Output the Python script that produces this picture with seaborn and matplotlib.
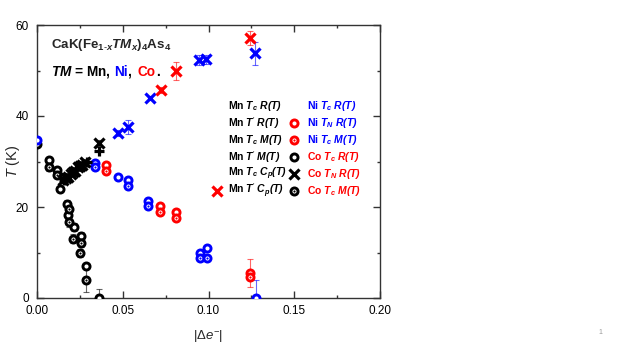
import numpy as np
import pandas as pd
import matplotlib
matplotlib.use("Agg")
import matplotlib.pyplot as plt
import matplotlib.transforms as mtransforms
import seaborn as sns

# ---------------- data ----------------
ni_tc_r_x = [0.0, 0.034, 0.047, 0.053, 0.065, 0.095, 0.099, 0.1277]
ni_tc_r_y = [34.7, 29.7, 26.6, 26.0, 21.3, 10.0, 11.0, 0.0]
ni_tc_m_x = [0.034, 0.053, 0.065, 0.095, 0.099]
ni_tc_m_y = [28.7, 24.6, 20.3, 8.7, 8.8]
ni_tn_r_x = [0.047, 0.053, 0.066, 0.0945, 0.0985, 0.127]
ni_tn_r_y = [36.3, 37.6, 44.0, 52.3, 52.5, 53.8]
ni_tn_r_err = [0.6, 1.5, 0.5, 1.0, 1.0, 2.5]

co_tc_r_x = [0.040, 0.072, 0.081, 0.124]
co_tc_r_y = [29.2, 20.2, 18.9, 5.5]
co_tc_r_err = [0.5, 0.5, 0.5, 3.0]
co_tc_m_x = [0.040, 0.072, 0.081, 0.124]
co_tc_m_y = [27.9, 18.9, 17.6, 4.6]
co_tn_r_x = [0.0723, 0.081, 0.124]
co_tn_r_y = [45.7, 49.9, 57.1]
co_tn_r_err = [0.7, 2.0, 1.5]

mn_tc_r_x = [0.0, 0.007, 0.0117, 0.0134, 0.0175, 0.018, 0.0216, 0.0256, 0.0286, 0.036]
mn_tc_r_y = [33.8, 30.3, 28.1, 24.0, 20.7, 18.2, 15.6, 13.6, 7.0, 0.0]
mn_tc_r_err = [0.5, 0.5, 0.5, 0.5, 0.8, 0.8, 0.8, 0.8, 0.5, 2.0]
mn_tc_m_x = [0.007, 0.0117, 0.0187, 0.0187, 0.021, 0.0256, 0.025, 0.0286]
mn_tc_m_y = [28.8, 27.0, 19.6, 16.7, 13.0, 12.1, 9.9, 4.0]
mn_tc_m_err = [0.8, 0.5, 0.8, 1.0, 1.0, 0.8, 0.8, 2.6]
mn_tc_cp_x = [0.0150, 0.017, 0.018, 0.020, 0.021, 0.022, 0.024, 0.025, 0.026, 0.028, 0.036]
mn_tc_cp_y = [26.0, 26.4, 26.6, 27.3, 27.6, 28.0, 28.8, 29.0, 29.3, 29.8, 34.0]
mn_tp_cp_x = [0.016, 0.017, 0.019, 0.021, 0.023, 0.025, 0.027, 0.029, 0.036]
mn_tp_cp_y = [26.0, 26.3, 27.0, 27.7, 28.4, 29.0, 29.5, 30.0, 32.3]

x_ticks = [0.00, 0.05, 0.10, 0.15, 0.20]
x_ticklabels = ["0.00", "0.05", "0.10", "0.15", "0.20"]
y_ticks = [0, 20, 40, 60]

legend_left = [r"Mn $\mathbfit{T}_{\mathbfit{c}}$ $\mathbfit{R(T)}$",
               r"Mn $\mathbfit{T}'$ $\mathbfit{R(T)}$",
               r"Mn $\mathbfit{T}_{\mathbfit{c}}$ $\mathbfit{M(T)}$",
               r"Mn $\mathbfit{T}'$ $\mathbfit{M(T)}$",
               r"Mn $\mathbfit{T}_{\mathbfit{c}}$ $\mathbfit{C}_{\mathbfit{p}}\mathbfit{(T)}$",
               r"Mn $\mathbfit{T}'$ $\mathbfit{C}_{\mathbfit{p}}\mathbfit{(T)}$"]
legend_right = [r"Ni $\mathbfit{T}_{\mathbfit{c}}$ $\mathbfit{R(T)}$",
                r"Ni $\mathbfit{T}_{\mathbfit{N}}$ $\mathbfit{R(T)}$",
                r"Ni $\mathbfit{T}_{\mathbfit{c}}$ $\mathbfit{M(T)}$",
                r"Co $\mathbfit{T}_{\mathbfit{c}}$ $\mathbfit{R(T)}$",
                r"Co $\mathbfit{T}_{\mathbfit{N}}$ $\mathbfit{R(T)}$",
                r"Co $\mathbfit{T}_{\mathbfit{c}}$ $\mathbfit{M(T)}$"]

BLUE = "#0000ff"
RED = "#ff0000"
BLACK = "#000000"
legend_right_colors = [BLUE, BLUE, BLUE, RED, RED, RED]
tm_pieces = [r"$\mathbfit{TM}$ = Mn, ", "Ni", ", ", "Co", "."]
tm_colors = [BLACK, BLUE, BLACK, RED, BLACK]

# ---------------- style ----------------
sns.set_style("ticks")
plt.rcParams["font.family"] = ["Liberation Sans", "DejaVu Sans"]
plt.rcParams["mathtext.fontset"] = "custom"
plt.rcParams["mathtext.rm"] = "Liberation Sans"
plt.rcParams["mathtext.it"] = "Liberation Sans:italic"
plt.rcParams["mathtext.bf"] = "Liberation Sans:bold"
plt.rcParams["mathtext.bfit"] = "Liberation Sans:italic:bold"

fig = plt.figure(figsize=(6.23, 3.5), dpi=100)
ax = fig.add_axes([37 / 623, 52 / 350, 343 / 623, 273 / 350])

CS = 26   # circle size
CLW = 2.1
XS = 52
XLW = 2.3


def circles(x, y, c, dot=False, err=None, z=3):
    if err is not None:
        ax.errorbar(x, y, yerr=err, fmt="none", ecolor=c, elinewidth=0.8,
                    capsize=2.5, capthick=0.8, alpha=0.6, zorder=z - 1)
    sns.scatterplot(x=x, y=y, ax=ax, marker="o", s=CS, facecolor="white",
                    edgecolor=c, linewidth=CLW, zorder=z, legend=False)
    if dot:
        sns.scatterplot(x=x, y=y, ax=ax, marker="o", s=2.5, color=c,
                        edgecolor=c, linewidth=0, zorder=z + 0.1, legend=False)


def crosses(x, y, c, marker="x", err=None, z=4):
    if err is not None:
        ax.errorbar(x, y, yerr=err, fmt="none", ecolor=c, elinewidth=0.8,
                    capsize=2.5, capthick=0.8, alpha=0.6, zorder=z - 1)
    sns.scatterplot(x=x, y=y, ax=ax, marker=marker, s=XS, color=c,
                    linewidth=XLW, zorder=z, legend=False)


# Mn
circles(mn_tc_r_x, mn_tc_r_y, BLACK, err=mn_tc_r_err)
circles(mn_tc_m_x, mn_tc_m_y, BLACK, dot=True, err=mn_tc_m_err)
crosses(mn_tc_cp_x, mn_tc_cp_y, BLACK, "x", err=[0.8] * len(mn_tc_cp_x))
crosses(mn_tp_cp_x, mn_tp_cp_y, BLACK, "+")
# Ni
circles(ni_tc_r_x, ni_tc_r_y, BLUE,
        err=[[0, 0, 0, 0, 0, 0, 0, 0], [0, 0, 0, 0, 0, 0, 0, 4.0]])
circles(ni_tc_m_x, ni_tc_m_y, BLUE, dot=True)
crosses(ni_tn_r_x, ni_tn_r_y, BLUE, err=ni_tn_r_err)
# Co
circles(co_tc_r_x, co_tc_r_y, RED, err=co_tc_r_err)
circles(co_tc_m_x, co_tc_m_y, RED, dot=True)
crosses(co_tn_r_x, co_tn_r_y, RED, err=co_tn_r_err)

# ---------------- axes ----------------
ax.set_xlim(0, 0.20)
ax.set_ylim(0, 60)
ax.set_xticks(x_ticks)
ax.set_xticklabels(x_ticklabels)
ax.set_yticks(y_ticks)
ax.set_xticks(np.arange(0, 0.2001, 0.025), minor=True)
ax.set_yticks(np.arange(0, 60.1, 10), minor=True)
ax.tick_params(which="both", direction="in", top=True, right=True,
               labelsize=8.5, colors="#333333", labelcolor="black")
ax.tick_params(axis="y", pad=6)
ax.tick_params(axis="x", pad=5)
ax.tick_params(which="major", length=5, width=1)
ax.tick_params(which="minor", length=2.5, width=1)
for s in ax.spines.values():
    s.set_linewidth(1.0)
    s.set_color("#333333")
    s.set_visible(True)
ax.set_xlabel(r"$|\mathit{\Delta e}^{-}|$", fontsize=9.5, labelpad=8)
ax.set_ylabel(r"$\mathit{T}$ (K)", fontsize=10.5)
ax.yaxis.set_label_coords(-0.045, 0.5)

# ---------------- annotations ----------------
ax.text(0.04, 0.925, r"CaK(Fe$_{\mathbf{1\text{-}}\mathbfit{x}}$$\mathbfit{TM}_{\mathbfit{x}}$)$_{\mathbf{4}}$As$_{\mathbf{4}}$",
        transform=ax.transAxes, fontsize=9.6, fontweight="bold", va="center", ha="left")

fig.canvas.draw()
renderer = fig.canvas.get_renderer()
dx = 0.0
for piece, col in zip(tm_pieces, tm_colors):
    tr = mtransforms.offset_copy(ax.transAxes, fig=fig, x=dx, y=0, units="dots")
    t = ax.text(0.04, 0.815, piece, transform=tr, fontsize=9.8, fontweight="bold",
                va="baseline", ha="left", color=col)
    w = t.get_window_extent(renderer=renderer).width
    if piece.endswith(" "):
        w += 2.5
    dx += w

rows_y = [0.703, 0.641, 0.579, 0.516, 0.454, 0.392]
for i, yy in enumerate(rows_y):
    ax.text(0.557, yy, legend_left[i], transform=ax.transAxes, fontsize=7.5,
            fontweight="bold", va="center", ha="left", color=BLACK)
    ax.text(0.787, yy, legend_right[i], transform=ax.transAxes, fontsize=7.5,
            fontweight="bold", va="center", ha="left", color=legend_right_colors[i])

# legend markers (decoration, in axes coordinates)
lx = 0.749
kw = dict(transform=ax.transAxes, clip_on=False, zorder=6)
ax.scatter([lx], [rows_y[1]], marker="o", s=CS, facecolor="white", edgecolor=RED, linewidth=CLW, **kw)
ax.scatter([lx], [rows_y[2]], marker="o", s=CS, facecolor="white", edgecolor=RED, linewidth=CLW, **kw)
ax.scatter([lx], [rows_y[2]], marker="o", s=2.5, color=RED, linewidth=0, transform=ax.transAxes, zorder=7)
ax.scatter([lx], [rows_y[3]], marker="o", s=CS, facecolor="white", edgecolor=BLACK, linewidth=CLW, **kw)
ax.scatter([lx], [rows_y[4]], marker="x", s=XS, color=BLACK, linewidth=XLW, **kw)
ax.scatter([lx], [rows_y[5]], marker="o", s=CS, facecolor="white", edgecolor=BLACK, linewidth=CLW, **kw)
ax.scatter([lx], [rows_y[5]], marker="o", s=2.5, color=BLACK, linewidth=0, transform=ax.transAxes, zorder=7)
ax.scatter([0.525], [rows_y[5]], marker="x", s=XS, color=RED, linewidth=XLW, **kw)

fig.text(600 / 623, 1 - 333 / 350, "1", fontsize=5, color="#999999", ha="center", va="center")

fig.savefig("out.png", dpi=100)
